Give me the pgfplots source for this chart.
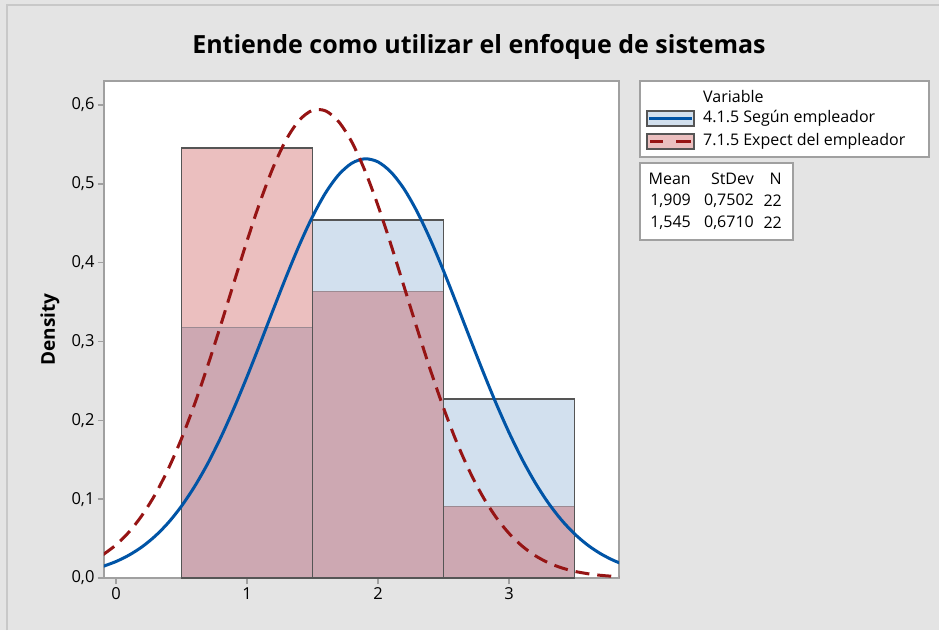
\documentclass[border=0pt]{standalone}
\usepackage{fontspec}
\setmainfont{Open Sans}
\usepackage{pgfplots}
\usepackage{pgfplotstable}
\pgfplotsset{compat=1.18}

\definecolor{bg}{HTML}{E4E4E4}
\definecolor{framegray}{HTML}{C8C8C8}
\definecolor{axgray}{HTML}{A0A0A0}
\definecolor{barblue}{HTML}{D2E0EE}
\definecolor{barpink}{HTML}{EBBFBF}
\definecolor{barmix}{HTML}{CDA8B2}
\definecolor{edge}{HTML}{555555}
\definecolor{mixedge}{HTML}{9C8A92}
\definecolor{lineblue}{HTML}{0054A6}
\definecolor{linered}{HTML}{961414}

% histogram densities, bins of width 1 (last row closes the interval)
\pgfplotstableread{
x y
0.5 0.3182
1.5 0.4545
2.5 0.2273
3.5 0.2273
}\histA
\pgfplotstableread{
x y
0.5 0.5455
1.5 0.3636
2.5 0.0909
3.5 0.0909
}\histB
\pgfplotstableread{
x y
0.5 0.3182
1.5 0.3636
2.5 0.0909
3.5 0.0909
}\histMin
\pgfplotstableread{
x y
0.5 0.5455
1.5 0.4545
2.5 0.2273
3.5 0.2273
}\histMax

\begin{document}
\begin{tikzpicture}
\useasboundingbox (0,0) rectangle (939pt,-630pt);
\fill[bg] (0,0) rectangle (939pt,-630pt);
\draw[framegray, line width=2pt] (7pt,-630pt) -- (7pt,-5pt) -- (939pt,-5pt);

\node[font=\fontsize{25}{30}\selectfont\bfseries] at (479pt,-47pt) {Entiende como utilizar el enfoque de sistemas};

\begin{axis}[
    at={(104pt,-578pt)}, anchor=south west,
    scale only axis, width=515pt, height=497pt,
    xmin=-0.0916, xmax=3.84, ymin=0, ymax=0.6305,
    axis background/.style={fill=white},
    axis line style={axgray, line width=2pt},
    tick style={axgray, line width=1.5pt},
    tick align=outside, major tick length=6pt, tick pos=left,
    xtick={0,1,2,3}, ytick={0,0.1,0.2,0.3,0.4,0.5,0.6},
    ticklabel style={font=\fontsize{16.5}{20}\selectfont},
    /pgf/number format/assume math mode=true,
    y tick label style={/pgf/number format/.cd, use comma, fixed, fixed zerofill, precision=1},
    ylabel={Density},
    every axis y label/.style={at={(axis description cs:-0.105,0.5)}, rotate=90, anchor=center,
        font=\fontsize{19}{23}\selectfont\bfseries},
]
\addplot[ybar interval, fill=barblue, draw=none] table {\histA};
\addplot[ybar interval, fill=barpink, draw=none] table {\histB};
\addplot[ybar interval, fill=barmix, draw=mixedge, line width=0.8pt] table {\histMin};
\addplot[ybar interval, fill=none, draw=edge, line width=1.8pt] table {\histMax};

\addplot[lineblue, line width=3pt, smooth] coordinates {
(-0.1,0.0147)(0.0,0.0209)(0.1,0.0291)(0.2,0.0397)(0.3,0.0533)(0.4,0.0703)(0.5,0.0912)
(0.6,0.1161)(0.7,0.1451)(0.8,0.1783)(0.9,0.2153)(1.0,0.2552)(1.1,0.2973)(1.2,0.3403)
(1.3,0.3825)(1.4,0.4225)(1.5,0.4584)(1.6,0.4886)(1.7,0.5116)(1.8,0.5262)(1.9,0.5318)
(2.0,0.5279)(2.1,0.5148)(2.2,0.4933)(2.3,0.4643)(2.4,0.4293)(2.5,0.3899)(2.6,0.3479)
(2.7,0.3050)(2.8,0.2627)(2.9,0.2222)(3.0,0.1847)(3.1,0.1508)(3.2,0.1210)(3.3,0.0953)
(3.4,0.0738)(3.5,0.0561)(3.6,0.0419)(3.7,0.0308)(3.8,0.0222)(3.9,0.0157)
};
\addplot[linered, line width=3pt, smooth, dash pattern=on 14pt off 8pt] coordinates {
(-0.1,0.0295)(0.0,0.0420)(0.1,0.0585)(0.2,0.0798)(0.3,0.1063)(0.4,0.1387)(0.5,0.1768)
(0.6,0.2206)(0.7,0.2691)(0.8,0.3210)(0.9,0.3746)(1.0,0.4275)(1.1,0.4772)(1.2,0.5210)
(1.3,0.5563)(1.4,0.5809)(1.5,0.5933)(1.6,0.5926)(1.7,0.5789)(1.8,0.5532)(1.9,0.5169)
(2.0,0.4725)(2.1,0.4224)(2.2,0.3692)(2.3,0.3157)(2.4,0.2640)(2.5,0.2160)(2.6,0.1727)
(2.7,0.1352)(2.8,0.1034)(2.9,0.0774)(3.0,0.0567)(3.1,0.0406)(3.2,0.0284)(3.3,0.0194)
(3.4,0.0130)(3.5,0.0085)(3.6,0.0055)(3.7,0.0034)(3.8,0.0021)(3.9,0.0013)
};
\end{axis}

% legend
\draw[axgray, line width=1.5pt, fill=white] (640pt,-81pt) rectangle (929pt,-157pt);
\begin{scope}[every node/.style={anchor=west, font=\fontsize{16}{19}\selectfont, inner sep=0pt}]
\node at (703pt,-96pt) {Variable};
\node at (703pt,-118.5pt) {4.1.5 Según empleador};
\node at (703pt,-141.5pt) {7.1.5 Expect del empleador};
\end{scope}
\draw[edge, line width=1.5pt, fill=barblue] (647pt,-111pt) rectangle (694pt,-126pt);
\draw[lineblue, line width=3pt] (649pt,-118.5pt) -- (692pt,-118.5pt);
\draw[edge, line width=1.5pt, fill=barpink] (647pt,-134pt) rectangle (694pt,-149pt);
\draw[linered, line width=3pt] (650pt,-141.5pt) -- (663pt,-141.5pt) (676pt,-141.5pt) -- (691pt,-141.5pt);

% summary table
\draw[axgray, line width=1.5pt, fill=white] (640pt,-163pt) rectangle (793pt,-240pt);
\begin{scope}[every node/.style={anchor=east, font=\fontsize{16}{19}\selectfont, inner sep=0pt}]
\node at (691pt,-179pt) {Mean};
\node at (754pt,-179pt) {StDev};
\node at (782pt,-179pt) {N};
\node at (691pt,-201pt) {1,909};
\node at (754pt,-201pt) {0,7502};
\node at (782pt,-201pt) {22};
\node at (691pt,-223pt) {1,545};
\node at (754pt,-223pt) {0,6710};
\node at (782pt,-223pt) {22};
\end{scope}
\end{tikzpicture}
\end{document}
